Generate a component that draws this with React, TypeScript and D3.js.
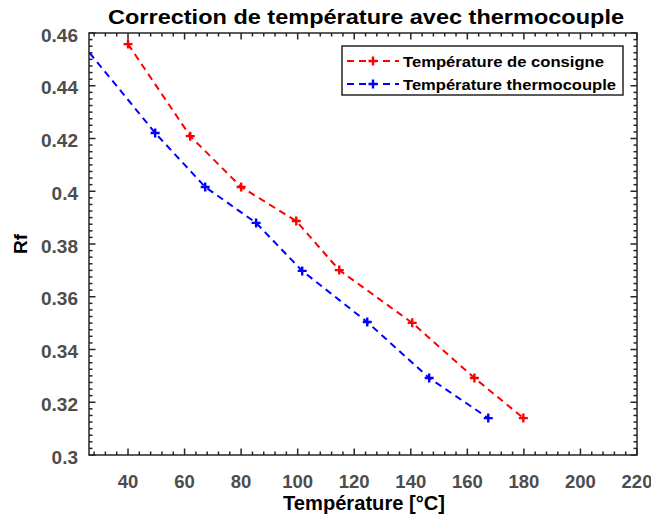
import { useEffect, useRef } from 'react';
import * as d3 from 'd3';

const consigneT = [40, 62, 80, 99.5, 114.7, 140.5, 162.5, 179.8];
const consigneRf = [0.4558, 0.4209, 0.4016, 0.3887, 0.3701, 0.3501, 0.3292, 0.314];
const thermoT = [23.7, 49.6, 67.3, 85.3, 101.6, 124.6, 146.5, 167.4];
const thermoRf = [0.456, 0.4221, 0.4016, 0.388, 0.3698, 0.3504, 0.3292, 0.314];
const xTicks = [40, 60, 80, 100, 120, 140, 160, 180, 200, 220];
const yTicks = [0.3, 0.32, 0.34, 0.36, 0.38, 0.4, 0.42, 0.44, 0.46];
const seriesNames = ['Température de consigne', 'Température thermocouple'];

const App = () => {
  const ref = useRef<SVGSVGElement>(null);

  useEffect(() => {
    const svg = d3.select(ref.current);
    svg.selectAll('*').remove();

    const left = 89, right = 637, top = 33, bottom = 455;
    const font = '"Liberation Sans", Arial, sans-serif';
    const axisCol = '#262626';
    const labelCol = '#4d4d4d';

    const x = d3.scaleLinear().domain([26.2, 220]).range([left, right]);
    const y = d3.scaleLinear().domain([0.3, 0.46]).range([bottom, top]);

    svg.append('defs').append('clipPath').attr('id', 'plotclip')
      .append('rect').attr('x', left).attr('y', top)
      .attr('width', right - left).attr('height', bottom - top);

    // ticks on all four sides, major every 20 / 0.02, minor in between
    const xMinor = d3.range(28, 221, 4);
    const yMinor = d3.range(0, 65).map(i => 0.3 + i * 0.0025);
    const tickG = svg.append('g').attr('stroke', axisCol).attr('stroke-width', 1.5);
    xMinor.forEach(v => {
      const len = xTicks.includes(v) ? 6.5 : 3.5;
      tickG.append('line').attr('x1', x(v)).attr('x2', x(v)).attr('y1', bottom).attr('y2', bottom - len);
      tickG.append('line').attr('x1', x(v)).attr('x2', x(v)).attr('y1', top).attr('y2', top + len);
    });
    yMinor.forEach((v, i) => {
      const len = i % 8 === 0 ? 6.5 : 3.5;
      tickG.append('line').attr('y1', y(v)).attr('y2', y(v)).attr('x1', left).attr('x2', left + len);
      tickG.append('line').attr('y1', y(v)).attr('y2', y(v)).attr('x1', right).attr('x2', right - len);
    });

    svg.append('rect').attr('x', left).attr('y', top)
      .attr('width', right - left).attr('height', bottom - top)
      .attr('fill', 'none').attr('stroke', axisCol).attr('stroke-width', 1.5);

    // tick labels
    svg.append('g').selectAll('text').data(xTicks).join('text')
      .attr('x', d => x(d)).attr('y', 488)
      .attr('text-anchor', 'middle')
      .attr('font-family', font).attr('font-weight', 'bold').attr('font-size', 18.5)
      .attr('fill', labelCol).text(d => String(d));
    svg.append('g').selectAll('text').data(yTicks).join('text')
      .attr('x', 78).attr('y', d => y(d) + 8.5)
      .attr('text-anchor', 'end')
      .attr('font-family', font).attr('font-weight', 'bold').attr('font-size', 19)
      .attr('fill', labelCol).text(d => String(+d.toFixed(2)));

    // axis labels & title
    svg.append('text').attr('x', 364).attr('y', 510).attr('text-anchor', 'middle')
      .attr('font-family', font).attr('font-weight', 'bold').attr('font-size', 20)
      .attr('textLength', 162).attr('lengthAdjust', 'spacingAndGlyphs')
      .attr('fill', '#000').text('Température [°C]');
    svg.append('text').attr('transform', 'translate(27,244) rotate(-90)').attr('text-anchor', 'middle')
      .attr('font-family', font).attr('font-weight', 'bold').attr('font-size', 19)
      .attr('fill', '#000').text('Rf');
    svg.append('text').attr('x', 366).attr('y', 24).attr('text-anchor', 'middle')
      .attr('font-family', font).attr('font-weight', 'bold').attr('font-size', 21)
      .attr('textLength', 516).attr('lengthAdjust', 'spacingAndGlyphs')
      .attr('fill', '#000').text('Correction de température avec thermocouple');

    const series = [
      { xs: consigneT, ys: consigneRf, color: '#ff0000' },
      { xs: thermoT, ys: thermoRf, color: '#0000ff' },
    ];
    const line = d3.line<[number, number]>().x(d => x(d[0])).y(d => y(d[1]));
    const plot = svg.append('g').attr('clip-path', 'url(#plotclip)');
    const plus = (g: any, cx: number, cy: number, color: string) => {
      g.append('path').attr('d', `M${cx - 4.5},${cy}H${cx + 4.5}M${cx},${cy - 4.5}V${cy + 4.5}`)
        .attr('stroke', color).attr('stroke-width', 2.4).attr('fill', 'none');
    };
    series.forEach(s => {
      const pts = s.xs.map((v, i) => [v, s.ys[i]] as [number, number]);
      plot.append('path').attr('d', line(pts))
        .attr('fill', 'none').attr('stroke', s.color).attr('stroke-width', 2)
        .attr('stroke-dasharray', '7,5');
      const mg = plot.append('g');
      pts.forEach(p => plus(mg, x(p[0]), y(p[1]), s.color));
    });

    // legend
    const lg = svg.append('g');
    lg.append('rect').attr('x', 342).attr('y', 46).attr('width', 281).attr('height', 49)
      .attr('fill', '#fff').attr('stroke', axisCol).attr('stroke-width', 1.5);
    const legendLens = [201, 213];
    series.forEach((s, i) => {
      const ly = 61 + i * 23;
      lg.append('line').attr('x1', 347).attr('x2', 399).attr('y1', ly).attr('y2', ly)
        .attr('stroke', s.color).attr('stroke-width', 2).attr('stroke-dasharray', '7,5');
      plus(lg, 373, ly, s.color);
      lg.append('text').attr('x', 403).attr('y', ly + 5.5)
        .attr('font-family', font).attr('font-weight', 'bold').attr('font-size', 15)
        .attr('textLength', legendLens[i]).attr('lengthAdjust', 'spacingAndGlyphs')
        .attr('fill', '#000').text(seriesNames[i]);
    });
  }, []);

  return (
    <svg ref={ref} width={651} height={524}
      style={{ position: 'absolute', left: 0, top: 0, background: '#fff' }} />
  );
};

export default App;
